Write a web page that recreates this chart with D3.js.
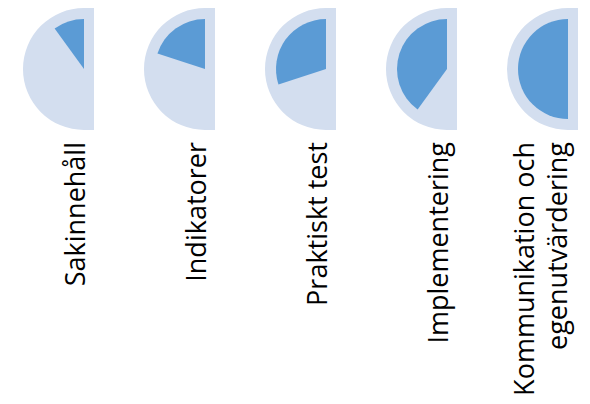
<!DOCTYPE html>
<html>
<head>
<meta charset="utf-8">
<script src="https://cdn.jsdelivr.net/npm/d3@7"></script>
<style>
  html, body { margin: 0; padding: 0; background: #fff; }
  svg { display: block; }
  .label { font-family: "Open Sans", sans-serif; font-size: 27px; fill: #000; }
</style>
</head>
<body>
<div class="chart"></div>
<script>
// categories and scores (out of 5)
const categories = ['Sakinnehåll', 'Indikatorer', 'Praktiskt test', 'Implementering', 'Kommunikation och egenutvärdering'];
const labelLines = [['Sakinnehåll'], ['Indikatorer'], ['Praktiskt test'], ['Implementering'], ['Kommunikation och', 'egenutvärdering']];
const scores = [1, 2, 3, 4, 5];
const maxScore = 5;

const width = 590;
const height = 404;
const cy = 69;
const outerR = 61;
const innerR = 50;
const strip = 10;
const lineH = 33;

let svg = d3.select('.chart')
  .append('svg')
  .attr('width', width)
  .attr('height', height);

let xScale = d3.scalePoint()
  .domain(categories)
  .range([84, 568]);

let angle = d3.scaleLinear()
  .domain([0, maxScore])
  .range([0, Math.PI]);

let bgArc = d3.arc()
  .innerRadius(0)
  .outerRadius(outerR)
  .startAngle(-Math.PI)
  .endAngle(0);

let scoreArc = d3.arc()
  .innerRadius(0)
  .outerRadius(innerR)
  .startAngle(d => -angle(d.score))
  .endAngle(0);

let data = categories.map((c, i) => ({cat: c, score: scores[i], lines: labelLines[i]}));

let g = svg.selectAll('.gauge')
  .data(data)
  .enter()
  .append('g')
  .attr('class', 'gauge')
  .attr('transform', d => `translate(${xScale(d.cat)}, ${cy})`);

// light background half with a small strip on the right
g.append('path')
  .attr('d', bgArc())
  .style('fill', '#D3DEEF');
g.append('rect')
  .attr('x', -0.5)
  .attr('y', -outerR)
  .attr('width', strip + 0.5)
  .attr('height', outerR * 2)
  .style('fill', '#D3DEEF');

g.append('path')
  .attr('d', d => scoreArc(d))
  .style('fill', '#5B9BD5');

// rotated category labels, the first line moves left when wrapped
let labels = svg.selectAll('.label')
  .data(data)
  .enter()
  .append('text')
  .attr('class', 'label')
  .attr('text-anchor', 'end')
  .attr('transform', d => `translate(${xScale(d.cat) + 1 - (d.lines.length - 1) * 35.5}, 142) rotate(-90)`);

labels.selectAll('tspan')
  .data(d => d.lines)
  .enter()
  .append('tspan')
  .attr('x', 0)
  .attr('dy', (d, i) => i === 0 ? 0 : lineH)
  .text(d => d);
</script>
</body>
</html>
